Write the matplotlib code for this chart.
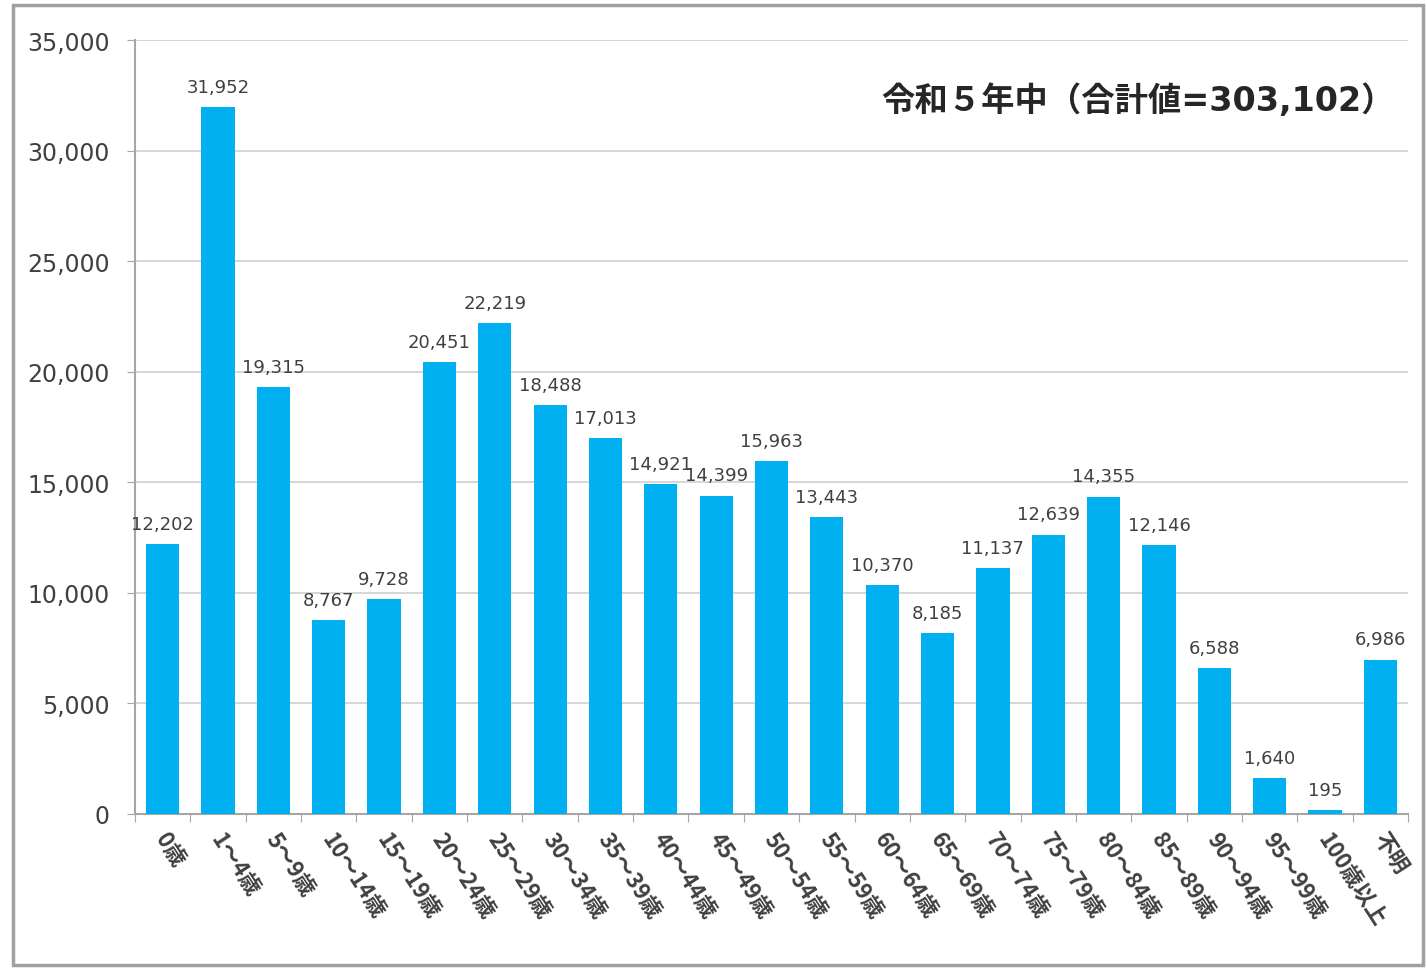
import matplotlib.pyplot as plt
from matplotlib.patches import Rectangle
from matplotlib.ticker import FuncFormatter

plt.rcParams['font.family'] = ['Noto Sans CJK JP', 'DejaVu Sans']

# age groups and counts
age_groups = ['0歳', '1～4歳', '5～9歳', '10～14歳', '15～19歳', '20～24歳', '25～29歳',
              '30～34歳', '35～39歳', '40～44歳', '45～49歳', '50～54歳', '55～59歳',
              '60～64歳', '65～69歳', '70～74歳', '75～79歳', '80～84歳', '85～89歳',
              '90～94歳', '95～99歳', '100歳以上', '不明']
counts = [12202, 31952, 19315, 8767, 9728, 20451, 22219, 18488, 17013, 14921, 14399,
          15963, 13443, 10370, 8185, 11137, 12639, 14355, 12146, 6588, 1640, 195, 6986]
y_ticks = [0, 5000, 10000, 15000, 20000, 25000, 30000, 35000]
title_text = '令和５年中（合計値=303,102）'

bar_color = '#00B0F0'
text_gray = '#404040'
axis_gray = '#A6A6A6'

fig = plt.figure(figsize=(14.27, 9.70), dpi=100)
ax = fig.add_axes([0.0946, 0.1598, 0.8921, 0.7979])

x = list(range(len(age_groups)))
bars = ax.bar(x, counts, width=0.6, color=bar_color, zorder=3)

for xi, v in zip(x, counts):
    ax.annotate(f'{v:,}', (xi, v), xytext=(0, 8), textcoords='offset points',
                ha='center', va='bottom', fontsize=13, color=text_gray,
                family='DejaVu Sans')

ax.set_xlim(-0.5, len(age_groups) - 0.5)
ax.set_ylim(0, 35000)
ax.set_yticks(y_ticks)
ax.yaxis.set_major_formatter(FuncFormatter(lambda v, p: f'{int(v):,}'))
ax.grid(axis='y', color='#D0D0D0', linewidth=1.2, zorder=0)

for s in ['top', 'right']:
    ax.spines[s].set_visible(False)
for s in ['left', 'bottom']:
    ax.spines[s].set_color(axis_gray)
    ax.spines[s].set_linewidth(1.5)

ax.tick_params(axis='y', length=6, color=axis_gray, labelsize=17,
               labelcolor=text_gray, pad=12)
for lbl in ax.get_yticklabels():
    lbl.set_family('DejaVu Sans')

# ticks between the categories, labels at the bar centres
ax.set_xticks([i - 0.5 for i in range(len(age_groups) + 1)])
ax.set_xticklabels([])
ax.tick_params(axis='x', length=6, color=axis_gray)
for xi, name in zip(x, age_groups):
    ax.text(xi - 0.05, -900, name, rotation=-57, rotation_mode='anchor',
            ha='left', va='center', fontsize=16, fontweight='bold',
            color=text_gray)

ax.text(0.99, 0.922, title_text, transform=ax.transAxes, ha='right', va='center',
        fontsize=24, fontweight='bold', color='#262626',
        family=['DejaVu Sans', 'Noto Sans CJK JP'])

# outer frame
fig.patches.append(Rectangle((0.009, 0.004), 0.988, 0.99, transform=fig.transFigure,
                             fill=False, edgecolor='#A0A0A0', linewidth=2.5))

fig.savefig('out.png', dpi=100)
